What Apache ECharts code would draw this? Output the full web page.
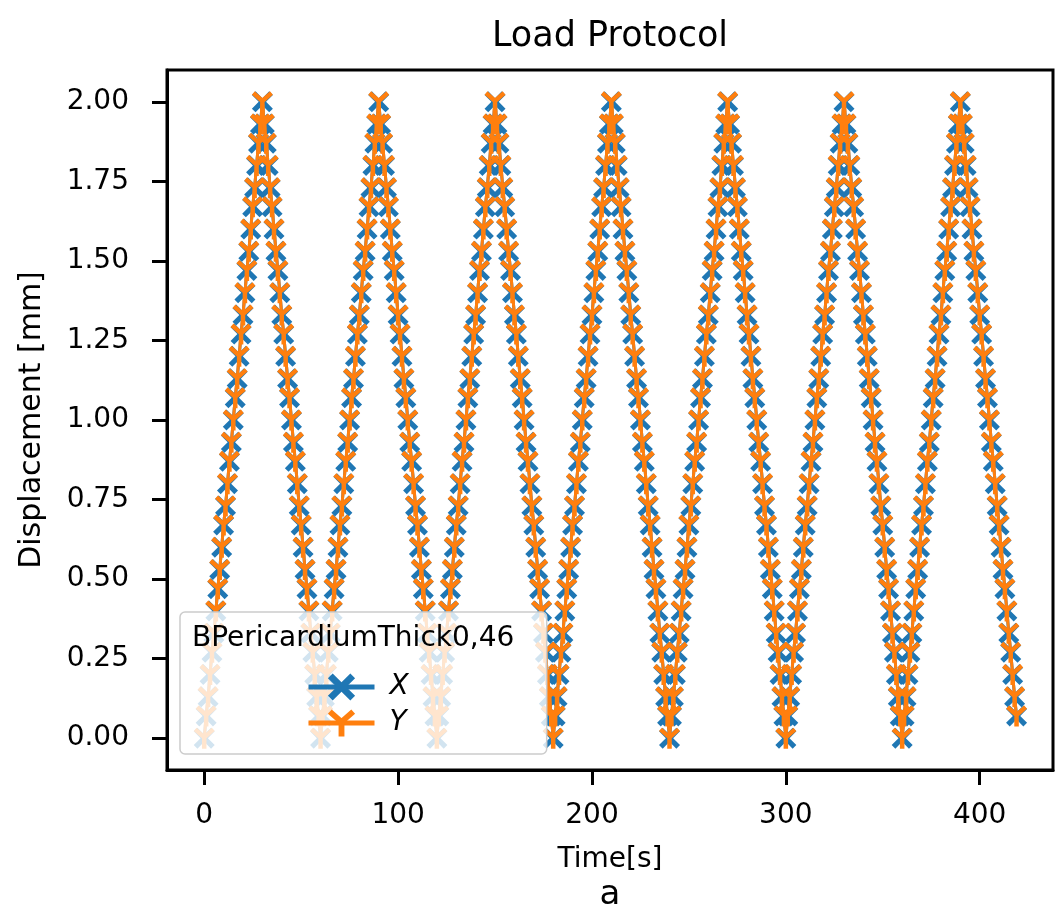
<!DOCTYPE html>
<html>
<head>
<meta charset="utf-8">
<title>Load Protocol</title>
<script src="https://cdn.jsdelivr.net/npm/echarts@6/dist/echarts.min.js"></script>
<style>
html,body{margin:0;padding:0;background:#fff;}
#chart{width:1058px;height:923px;}
</style>
</head>
<body>
<div id="chart"></div>
<script>
// sample times [s]
var timeS = [
0,1,2,3,4,5,6,7,8,9,10,11,12,13,14,15,16,17,18,19,
20,21,22,23,24,25,26,27,28,29,30,31,32,33,34,35,36,37,38,39,
40,41,42,43,44,45,46,47,48,49,50,51,52,53,54,55,56,57,58,59,
60,61,62,63,64,65,66,67,68,69,70,71,72,73,74,75,76,77,78,79,
80,81,82,83,84,85,86,87,88,89,90,91,92,93,94,95,96,97,98,99,
100,101,102,103,104,105,106,107,108,109,110,111,112,113,114,115,116,117,118,119,
120,121,122,123,124,125,126,127,128,129,130,131,132,133,134,135,136,137,138,139,
140,141,142,143,144,145,146,147,148,149,150,151,152,153,154,155,156,157,158,159,
160,161,162,163,164,165,166,167,168,169,170,171,172,173,174,175,176,177,178,179,
180,181,182,183,184,185,186,187,188,189,190,191,192,193,194,195,196,197,198,199,
200,201,202,203,204,205,206,207,208,209,210,211,212,213,214,215,216,217,218,219,
220,221,222,223,224,225,226,227,228,229,230,231,232,233,234,235,236,237,238,239,
240,241,242,243,244,245,246,247,248,249,250,251,252,253,254,255,256,257,258,259,
260,261,262,263,264,265,266,267,268,269,270,271,272,273,274,275,276,277,278,279,
280,281,282,283,284,285,286,287,288,289,290,291,292,293,294,295,296,297,298,299,
300,301,302,303,304,305,306,307,308,309,310,311,312,313,314,315,316,317,318,319,
320,321,322,323,324,325,326,327,328,329,330,331,332,333,334,335,336,337,338,339,
340,341,342,343,344,345,346,347,348,349,350,351,352,353,354,355,356,357,358,359,
360,361,362,363,364,365,366,367,368,369,370,371,372,373,374,375,376,377,378,379,
380,381,382,383,384,385,386,387,388,389,390,391,392,393,394,395,396,397,398,399,
400,401,402,403,404,405,406,407,408,409,410,411,412,413,414,415,416,417,418,419
];
// displacement [mm], one row per 60 s cycle
var dispX = [
0,0.07,0.13,0.2,0.27,0.33,0.4,0.47,0.53,0.6,0.67,0.73,0.8,0.87,0.93,1,1.07,1.13,1.2,1.27,1.33,1.4,1.47,1.53,1.6,1.67,1.73,1.8,1.87,1.93,2,1.93,1.87,1.8,1.73,1.67,1.6,1.53,1.47,1.4,1.33,1.27,1.2,1.13,1.07,1,0.93,0.87,0.8,0.73,0.67,0.6,0.53,0.47,0.4,0.33,0.27,0.2,0.13,0.07,
0,0.07,0.13,0.2,0.27,0.33,0.4,0.47,0.53,0.6,0.67,0.73,0.8,0.87,0.93,1,1.07,1.13,1.2,1.27,1.33,1.4,1.47,1.53,1.6,1.67,1.73,1.8,1.87,1.93,2,1.93,1.87,1.8,1.73,1.67,1.6,1.53,1.47,1.4,1.33,1.27,1.2,1.13,1.07,1,0.93,0.87,0.8,0.73,0.67,0.6,0.53,0.47,0.4,0.33,0.27,0.2,0.13,0.07,
0,0.07,0.13,0.2,0.27,0.33,0.4,0.47,0.53,0.6,0.67,0.73,0.8,0.87,0.93,1,1.07,1.13,1.2,1.27,1.33,1.4,1.47,1.53,1.6,1.67,1.73,1.8,1.87,1.93,2,1.93,1.87,1.8,1.73,1.67,1.6,1.53,1.47,1.4,1.33,1.27,1.2,1.13,1.07,1,0.93,0.87,0.8,0.73,0.67,0.6,0.53,0.47,0.4,0.33,0.27,0.2,0.13,0.07,
0,0.07,0.13,0.2,0.27,0.33,0.4,0.47,0.53,0.6,0.67,0.73,0.8,0.87,0.93,1,1.07,1.13,1.2,1.27,1.33,1.4,1.47,1.53,1.6,1.67,1.73,1.8,1.87,1.93,2,1.93,1.87,1.8,1.73,1.67,1.6,1.53,1.47,1.4,1.33,1.27,1.2,1.13,1.07,1,0.93,0.87,0.8,0.73,0.67,0.6,0.53,0.47,0.4,0.33,0.27,0.2,0.13,0.07,
0,0.07,0.13,0.2,0.27,0.33,0.4,0.47,0.53,0.6,0.67,0.73,0.8,0.87,0.93,1,1.07,1.13,1.2,1.27,1.33,1.4,1.47,1.53,1.6,1.67,1.73,1.8,1.87,1.93,2,1.93,1.87,1.8,1.73,1.67,1.6,1.53,1.47,1.4,1.33,1.27,1.2,1.13,1.07,1,0.93,0.87,0.8,0.73,0.67,0.6,0.53,0.47,0.4,0.33,0.27,0.2,0.13,0.07,
0,0.07,0.13,0.2,0.27,0.33,0.4,0.47,0.53,0.6,0.67,0.73,0.8,0.87,0.93,1,1.07,1.13,1.2,1.27,1.33,1.4,1.47,1.53,1.6,1.67,1.73,1.8,1.87,1.93,2,1.93,1.87,1.8,1.73,1.67,1.6,1.53,1.47,1.4,1.33,1.27,1.2,1.13,1.07,1,0.93,0.87,0.8,0.73,0.67,0.6,0.53,0.47,0.4,0.33,0.27,0.2,0.13,0.07,
0,0.07,0.13,0.2,0.27,0.33,0.4,0.47,0.53,0.6,0.67,0.73,0.8,0.87,0.93,1,1.07,1.13,1.2,1.27,1.33,1.4,1.47,1.53,1.6,1.67,1.73,1.8,1.87,1.93,2,1.93,1.87,1.8,1.73,1.67,1.6,1.53,1.47,1.4,1.33,1.27,1.2,1.13,1.07,1,0.93,0.87,0.8,0.73,0.67,0.6,0.53,0.47,0.4,0.33,0.27,0.2,0.13,0.07
];
// the Y trace sits right on top of the X trace in the picture
var dispY = dispX;

var xTicks = [0,100,200,300,400];
var yTicks = [0,0.25,0.5,0.75,1,1.25,1.5,1.75,2];

var FONT = "DejaVu Sans";
var XMARK = 'path://M3.5,0 L10,6.5 L16.5,0 L20,3.5 L13.5,10 L20,16.5 L16.5,20 L10,13.5 L3.5,20 L0,16.5 L6.5,10 L0,3.5 Z';
var YMARK = 'path://M8,10 L12,10 L12,20 L8,20 Z M8.7,11.5 L0.7,4.5 L3.3,1.5 L11.3,8.5 Z M8.7,8.5 L16.7,1.5 L19.3,4.5 L11.3,11.5 Z';

function pairs(t, v){
	var out = [];
	for(var i=0;i<t.length;i++){
		out.push([t[i], v[i]]);
	}
	return out;
}

var chart = echarts.init(document.getElementById("chart"), null, {renderer:'canvas'});
var option = {
	animation:false,
	backgroundColor:'#fff',
	textStyle:{fontFamily:FONT},
	grid:{
		left:167,
		right:5,
		top:70,
		bottom:153,
		show:true,
		borderColor:'#000',
		borderWidth:3,
		containLabel:false
	},
	graphic:[
		{type:'text', x:610, y:37, z:100, style:{text:'Load Protocol', font:'35px "DejaVu Sans"', fill:'#000', textAlign:'center', textVerticalAlign:'middle'}},
		{type:'text', x:610, y:895, z:100, style:{text:'a', font:'34px "DejaVu Sans"', fill:'#000', textAlign:'center', textVerticalAlign:'middle'}},
		{type:'text', x:192, y:639, z:100, style:{text:'BPericardiumThick0,46', font:'28px "DejaVu Sans"', fill:'#000', textAlign:'left', textVerticalAlign:'middle'}}
	],
	legend:{
		data:['X','Y'],
		orient:'vertical',
		left:180,
		top:612,
		padding:[61,138,17,126],
		itemWidth:66,
		itemHeight:34,
		itemGap:8,
		backgroundColor:'rgba(255,255,255,0.8)',
		borderColor:'#cccccc',
		borderWidth:1.5,
		borderRadius:5,
		lineStyle:{width:5},
		z:50,
		textStyle:{fontFamily:FONT, fontSize:28, fontStyle:'italic', color:'#000', padding:[0,0,0,10]}
	},
	xAxis:{
		type:'value',
		min:-19.2,
		max:437.8,
		name:'Time[s]',
		nameLocation:'middle',
		nameGap:76,
		nameTextStyle:{fontFamily:FONT, fontSize:28, color:'#000'},
		splitLine:{show:false},
		axisLine:{show:true, onZero:false, lineStyle:{color:'#000', width:3}},
		axisTick:{show:true, length:15, inside:false, customValues:xTicks, lineStyle:{color:'#000', width:3}},
		axisLabel:{customValues:xTicks, margin:32, fontFamily:FONT, fontSize:28, color:'#000'}
	},
	yAxis:{
		type:'value',
		min:-0.1,
		max:2.1,
		name:'Displacement [mm]',
		nameLocation:'middle',
		nameGap:120,
		nameRotate:90,
		nameTextStyle:{fontFamily:FONT, fontSize:30, color:'#000'},
		splitLine:{show:false},
		axisLine:{show:true, onZero:false, lineStyle:{color:'#000', width:3}},
		axisTick:{show:true, length:15, inside:false, customValues:yTicks, lineStyle:{color:'#000', width:3}},
		axisLabel:{customValues:yTicks, margin:38, fontFamily:FONT, fontSize:28, color:'#000',
			formatter:function(v){ return v.toFixed(2); }}
	},
	series:[
		{
			name:'X',
			type:'line',
			data:pairs(timeS, dispX),
			symbol:XMARK,
			symbolSize:[21,21],
			showAllSymbol:true,
			itemStyle:{color:'#1f77b4'},
			lineStyle:{color:'#1f77b4', width:3},
			z:2
		},
		{
			name:'Y',
			type:'line',
			data:pairs(timeS, dispY),
			symbol:YMARK,
			symbolSize:[21,21],
			showAllSymbol:true,
			itemStyle:{color:'#ff7f0e'},
			lineStyle:{color:'#ff7f0e', width:3},
			z:3
		}
	]
};
chart.setOption(option);
</script>
</body>
</html>
